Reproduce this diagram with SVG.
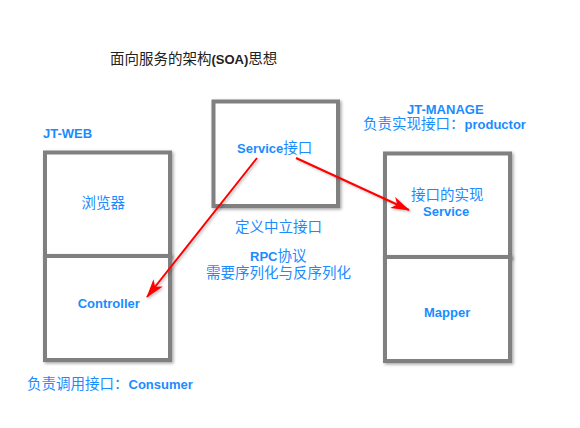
<svg xmlns="http://www.w3.org/2000/svg" width="580" height="428" viewBox="0 0 580 428">
<style>
.box{fill:#ffffff;stroke:#808080;stroke-width:4;filter:url(#sh)}
.t{font-family:"Liberation Sans","Noto Sans CJK SC",sans-serif;fill:#1a8cff}
.cjk{font-size:14.5px;font-weight:normal}
.lat{font-size:13px;font-weight:bold}
.title{fill:#222222}
.conn{fill:none;stroke:#ff0000;stroke-width:2;marker-end:url(#ah);filter:url(#sh2)}
</style>
<defs>
<filter id="sh" x="-10%" y="-10%" width="125%" height="125%">
<feDropShadow dx="1.5" dy="1.5" stdDeviation="1.5" flood-color="#000" flood-opacity="0.35"/>
</filter>
<filter id="sh2" x="-10%" y="-10%" width="125%" height="125%">
<feDropShadow dx="1.5" dy="1.5" stdDeviation="1.2" flood-color="#000" flood-opacity="0.25"/>
</filter>
<marker id="ah" viewBox="0 0 19 12" refX="18" refY="6" markerWidth="19" markerHeight="12" markerUnits="userSpaceOnUse" orient="auto">
<path d="M0,0 L19,6 L0,12 L5,6 z" fill="#ff0000"/>
</marker>
</defs>
<rect width="580" height="428" fill="#ffffff"/>

<g id="title">
<text class="t title" x="110" y="64"><tspan class="cjk">面向服务的架构</tspan><tspan class="lat">(SOA)</tspan><tspan class="cjk">思想</tspan></text>
</g>

<g id="jt-web">
<text class="t lat" x="43" y="138">JT-WEB</text>
<rect class="box" x="45" y="152.5" width="125" height="103.5"/>
<rect class="box" x="45" y="256" width="125" height="104"/>
<text class="t cjk" x="81.5" y="207.5">浏览器</text>
<text class="t lat" x="77.7" y="308">Controller</text>
<text class="t" x="27" y="389"><tspan class="cjk">负责调用接口：</tspan><tspan class="lat">Consumer</tspan></text>
</g>

<g id="service-interface">
<rect class="box" x="213.5" y="101.5" width="124.5" height="104.5"/>
<text class="t" x="237" y="153"><tspan class="lat">Service</tspan><tspan class="cjk">接口</tspan></text>
<text class="t cjk" x="235" y="231.5">定义中立接口</text>
<text class="t" x="250" y="260.5"><tspan class="lat">RPC</tspan><tspan class="cjk">协议</tspan></text>
<text class="t cjk" x="206" y="277.5">需要序列化与反序列化</text>
</g>

<g id="jt-manage">
<text class="t lat" x="407" y="114">JT-MANAGE</text>
<text class="t" x="363" y="129"><tspan class="cjk">负责实现接口：</tspan><tspan class="lat">productor</tspan></text>
<rect class="box" x="385" y="153.5" width="125" height="103.5"/>
<rect class="box" x="385" y="257" width="125" height="104"/>
<text class="t cjk" x="411" y="200">接口的实现</text>
<text class="t lat" x="423" y="216">Service</text>
<text class="t lat" x="424" y="317">Mapper</text>
</g>

<g id="connectors">
<line class="conn" x1="257" y1="158" x2="147" y2="297"/>
<line class="conn" x1="296" y1="158" x2="409" y2="210"/>
</g>
</svg>
